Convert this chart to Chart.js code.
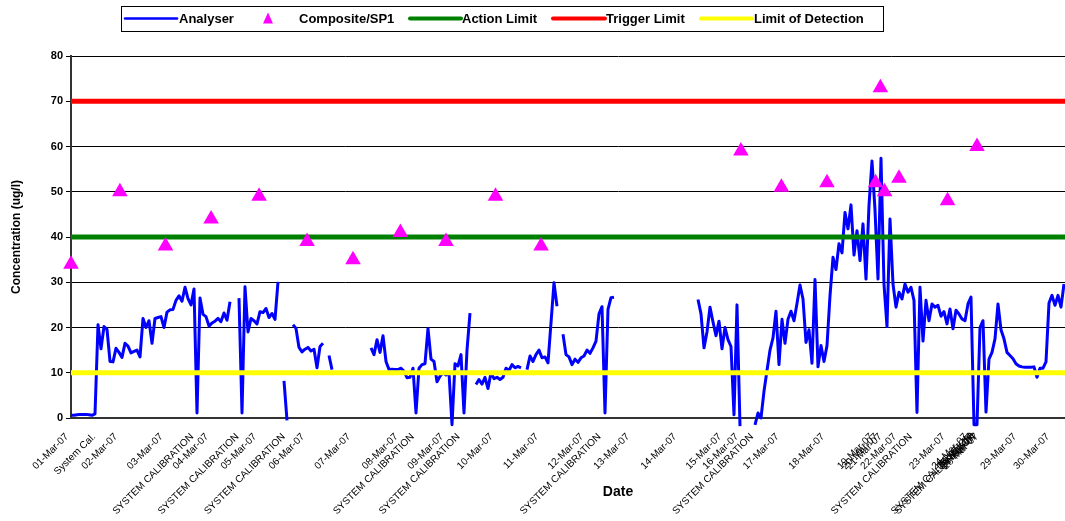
<!DOCTYPE html>
<html>
<head>
<meta charset="utf-8">
<script src="https://cdn.jsdelivr.net/npm/chart.js@4.4.1/dist/chart.umd.min.js"></script>
<style>
  html, body { margin: 0; padding: 0; background: #fff; overflow: hidden; }
  canvas { display: block; }
</style>
</head>
<body>
<canvas id="chart" width="1165" height="521"></canvas>
<script>
// analyser readings, one per reading index (null = no data)
const analyser = [
  0.6, 0.6, 0.7, 0.8, 0.8, 0.8, 0.7, 0.6, 0.9, 20.6,
  15.3, 20.2, 19.6, 12.5, 12.4, 15.4, 14.5, 13.4, 16.5, 15.9,
  14.4, 14.7, 15, 13.5, 22, 20, 21.5, 16.5, 22, 22.2,
  22.4, 20, 23.4, 23.9, 24, 26, 27, 25.8, 28.9, 26.4,
  25, 28.5, 1.1, 26.5, 22.9, 22.4, 20.3, 21, 21.4, 22,
  21.3, 23.2, 21.6, 25.7, null, null, 26.5, 1.1, 29, 19,
  22, 21.5, 20.8, 23.5, 23.3, 24.2, 22.2, 23.1, 21.8, 30.1,
  null, 8.2, -0.5, null, 20.6, 19.8, 15.6, 14.6, 15.2, 15.6,
  14.8, 15.2, 11.1, 15.8, 16.5, null, 13.8, 10.7, null, null,
  null, null, null, null, null, null, null, null, null, null,
  15.5, 14, 17.3, 14.5, 18.2, 12.5, 10.7, 10.8, 10.7, 10.7,
  11, 10.3, 8.9, 9, 11, 1.1, 11, 11.8, 12, 19.8,
  13, 12.5, 8, 9.2, 10, 9.5, 10, -1.5, 12, 11.5,
  14, 1.1, 15, 23.2, null, 7.4, 8.5, 7.5, 9, 6.5,
  10, 8.7, 9, 8.5, 9, 11, 10.5, 11.8, 11.1, 11.4,
  11.1, null, 10.7, 13.7, 12.5, 14, 15, 13.3, 13.5, 12.2,
  21, 29.9, 24.7, null, 18.5, 14, 13.5, 11.8, 13, 12.3,
  13.3, 13.7, 15, 14.3, 15.5, 17, 23, 24.6, 1.1, 24,
  26.6, 26.7, null, null, null, null, null, null, null, null,
  null, null, null, null, null, null, null, null, null, null,
  null, null, null, null, null, null, null, null, null, 26.2,
  23, 15.5, 19, 24.5, 21.2, 18.2, 21.4, 15.3, 20, 17.3,
  15.8, 0.7, 25, -1.8, null, null, null, null, -1.5, 1.1,
  0, 5.9, 10.5, 15, 17.7, 23.6, 11.8, 21.8, 16.5, 21.8,
  23.6, 21.5, 25.3, 29.4, 26.3, 16.7, 19.5, 12.1, 30.6, 11.3,
  16, 12.5, 16, 27, 35.5, 32.8, 38.5, 36.5, 45.4, 41.8,
  47.1, 36, 41.4, 34.8, 42.9, 30.7, 47, 56.8, 46, 30.7,
  57.4, 29.6, 20.2, 44, 29.6, 24.5, 27.8, 26.3, 29.6, 27.8,
  28.9, 26, 1.2, 28.9, 17, 26, 21.5, 25.2, 24.5, 24.9,
  22.5, 23.5, 20.8, 24.1, 19.7, 23.8, 23, 21.9, 21.5, 25.2,
  26.7, -1.5, -1.5, 20, 21.5, 1.3, 13, 14.5, 17.5, 25.2,
  19.5, 17.5, 14.5, 13.8, 13.1, 12, 11.5, 11.3, 11.2, 11.2,
  11.2, 11.3, 9, 11, 11, 12.4, 25.4, 27.1, 24.9, 27.1,
  24.5, 29.6
];

// category labels on the date axis and the reading index where each sits
const tickLabels = [
  "01-Mar-07", "System Cal.", "02-Mar-07", "03-Mar-07", "SYSTEM CALIBRATION",
  "04-Mar-07", "SYSTEM CALIBRATION", "05-Mar-07", "SYSTEM CALIBRATION", "06-Mar-07",
  "07-Mar-07", "08-Mar-07", "SYSTEM CALIBRATION", "09-Mar-07", "SYSTEM CALIBRATION",
  "10-Mar-07", "11-Mar-07", "12-Mar-07", "SYSTEM CALIBRATION", "13-Mar-07",
  "14-Mar-07", "15-Mar-07", "16-Mar-07", "SYSTEM CALIBRATION", "17-Mar-07",
  "18-Mar-07", "19-Mar-07", "20-Mar-07", "21-Mar-07", "22-Mar-07",
  "SYSTEM CALIBRATION", "23-Mar-07", "24-Mar-07", "SYSTEM CALIBRATION", "25-Mar-07",
  "26-Mar-07", "SYSTEM CALIBRATION", "27-Mar-07", "28-Mar-07", "29-Mar-07",
  "30-Mar-07"
];
const tickPos = [
  0, 9, 16.3, 31.5, 41.7,
  46.7, 56.8, 62.7, 72.2, 78.7,
  94, 109.8, 115.2, 125, 130.5,
  141.5, 156.7, 171.7, 177.5, 187,
  202.7, 217.7, 223.3, 228.3, 236.8,
  252, 268.2, 269.8, 271.2, 276,
  281.2, 292.2, 299.7, 301.2, 301.5,
  302, 302.3, 302.8, 303.3, 316,
  327
];

// composite / SP1 samples
const compositeDays = [
  "01-Mar-07", "02-Mar-07", "03-Mar-07", "04-Mar-07", "05-Mar-07",
  "06-Mar-07", "07-Mar-07", "08-Mar-07", "09-Mar-07", "10-Mar-07",
  "11-Mar-07", "16-Mar-07", "17-Mar-07", "18-Mar-07", "19-Mar-07",
  "20-Mar-07", "21-Mar-07", "22-Mar-07", "23-Mar-07", "26-Mar-07"
];
const compositeValues = [34, 50, 38, 44, 49, 39, 35, 41, 39, 49, 38, 59, 51, 52, 52, 73, 50, 53, 48, 60];

const actionLimit = 40;
const triggerLimit = 70;
const detectionLimit = 10;

const xMax = 364.67; // plot continues past the visible edge

Chart.defaults.font.family = "Arial, 'Liberation Sans', sans-serif";
Chart.defaults.color = "#000";

const flat = (v) => [{ x: 0, y: v }, { x: xMax, y: v }];

// legend drawn as a boxed strip at the top, like the spreadsheet one
const boxLegend = {
  id: "boxLegend",
  afterDraw(chart) {
    const ctx = chart.ctx;
    const find = (l) => chart.data.datasets.find((d) => d.label === l);
    const items = [
      { label: "Analyser", x0: 125, x1: 177, tx: 179, w: 2.5 },
      { label: "Composite/SP1", tri: 268, tx: 299 },
      { label: "Action Limit", x0: 410, x1: 461, tx: 462, w: 4 },
      { label: "Trigger Limit", x0: 553, x1: 605, tx: 606, w: 4 },
      { label: "Limit of Detection", x0: 701, x1: 752, tx: 754, w: 4 },
    ];
    const y = 18.5;
    ctx.save();
    ctx.fillStyle = "#fff";
    ctx.fillRect(121, 6, 762, 25);
    ctx.strokeStyle = "#000";
    ctx.lineWidth = 1;
    ctx.strokeRect(121.5, 6.5, 762, 25);
    ctx.font = "bold 13px Arial, 'Liberation Sans', sans-serif";
    ctx.textBaseline = "middle";
    items.forEach((it) => {
      const ds = find(it.label);
      if (it.tri) {
        ctx.fillStyle = ds.backgroundColor;
        ctx.beginPath();
        ctx.moveTo(it.tri, y - 6);
        ctx.lineTo(it.tri + 5, y + 5);
        ctx.lineTo(it.tri - 5, y + 5);
        ctx.closePath();
        ctx.fill();
      } else {
        ctx.strokeStyle = ds.borderColor;
        ctx.lineWidth = it.w;
        ctx.lineCap = "round";
        ctx.beginPath();
        ctx.moveTo(it.x0, y);
        ctx.lineTo(it.x1, y);
        ctx.stroke();
      }
      ctx.fillStyle = "#000";
      ctx.fillText(it.label, it.tx, y + 0.5);
    });
    ctx.restore();
  },
};

const ctx = document.getElementById("chart").getContext("2d");

new Chart(ctx, {
  type: "line",
  data: {
    datasets: [
      {
        label: "Composite/SP1",
        data: compositeDays.map((d, i) => ({
          x: tickPos[tickLabels.indexOf(d)],
          y: compositeValues[i],
        })),
        showLine: false,
        pointStyle: "triangle",
        pointRadius: 9,
        pointBackgroundColor: "#FF00FF",
        backgroundColor: "#FF00FF",
        pointBorderWidth: 0,
        borderColor: "#FF00FF",
        clip: false,
        order: 0,
      },
      {
        label: "Action Limit",
        data: flat(actionLimit),
        borderColor: "#008000",
        borderWidth: 5,
        pointRadius: 0,
        order: 1,
      },
      {
        label: "Trigger Limit",
        data: flat(triggerLimit),
        borderColor: "#FF0000",
        borderWidth: 5,
        pointRadius: 0,
        order: 1,
      },
      {
        label: "Limit of Detection",
        data: flat(detectionLimit),
        borderColor: "#FFFF00",
        borderWidth: 5,
        pointRadius: 0,
        order: 1,
      },
      {
        label: "Analyser",
        data: analyser.map((v, i) => ({ x: i, y: v })),
        borderColor: "#0000FF",
        borderWidth: 3,
        borderJoinStyle: "round",
        pointRadius: 0,
        spanGaps: false,
        tension: 0,
        clip: false,
        order: 5,
      },
    ],
  },
  options: {
    responsive: false,
    animation: false,
    events: [],
    layout: { autoPadding: false, padding: { top: 56, right: 0, bottom: 0, left: 0 } },
    plugins: {
      legend: { display: false },
      tooltip: { enabled: false },
    },
    scales: {
      x: {
        type: "linear",
        min: 0,
        max: xMax,
        afterBuildTicks: (scale) => {
          scale.ticks = tickPos.map((v) => ({ value: v }));
        },
        afterFit: (scale) => {
          scale.height = 103;
          scale.paddingLeft = 0;
          scale.paddingRight = 0;
        },
        ticks: {
          autoSkip: false,
          minRotation: 45,
          maxRotation: 45,
          padding: 13,
          labelOffset: -4,
          font: { size: 10 },
          color: "#000",
          callback: (v, i) => tickLabels[i],
        },
        grid: { display: false, drawTicks: false },
        border: { display: true, color: "#333", width: 2 },
        title: {
          display: true,
          text: "Date",
          color: "#000",
          font: { size: 14, weight: "bold" },
          padding: { top: 0, bottom: 20 },
        },
      },
      y: {
        min: 0,
        max: 80,
        afterFit: (scale) => {
          scale.width = 71;
          scale.paddingTop = 0;
          scale.paddingBottom = 0;
        },
        ticks: {
          stepSize: 10,
          padding: 3,
          color: "#000",
          font: { size: 11, weight: "bold" },
        },
        grid: { color: "#000", lineWidth: 1, tickLength: 5 },
        border: { display: true, color: "#333", width: 2 },
        title: {
          display: true,
          text: "Concentration (ug/l)",
          color: "#000",
          font: { size: 12, weight: "bold" },
          padding: { top: 9, bottom: 0 },
        },
      },
    },
  },
  plugins: [boxLegend],
});
</script>
</body>
</html>
